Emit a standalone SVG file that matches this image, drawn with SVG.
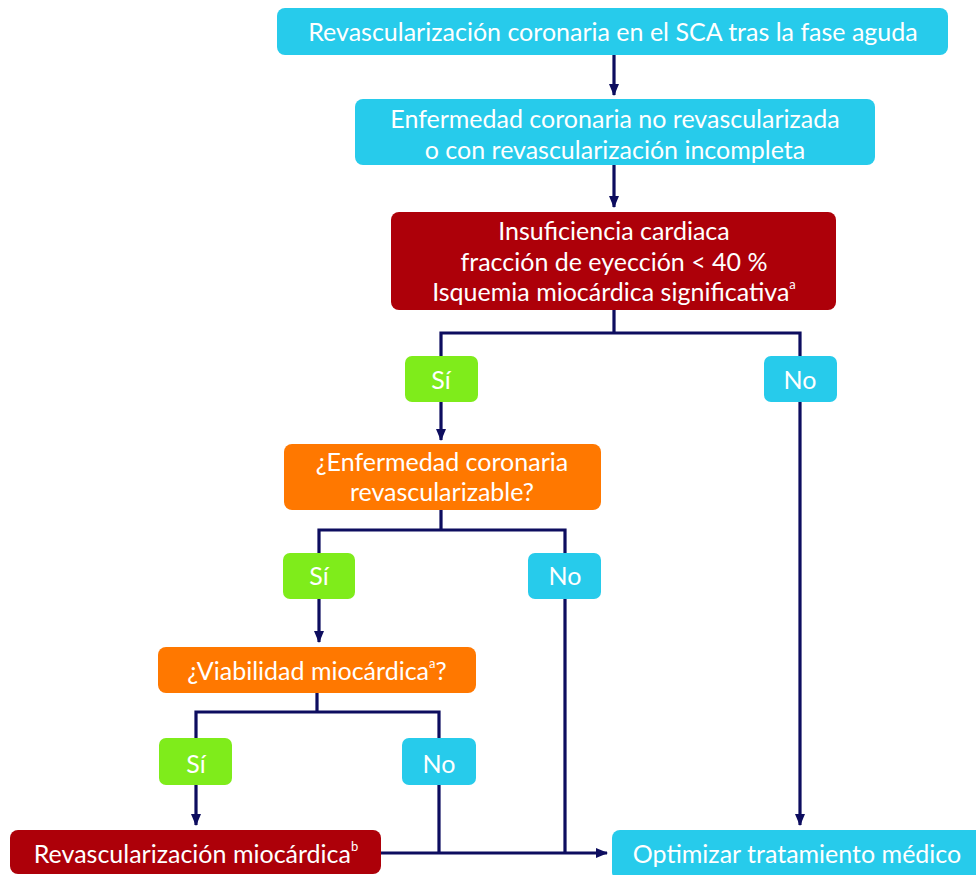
<svg xmlns="http://www.w3.org/2000/svg" width="976" height="875" viewBox="0 0 976 875">
<defs>
<marker id="ah" markerWidth="12" markerHeight="10" refX="11" refY="5" orient="auto" markerUnits="userSpaceOnUse">
<path d="M0,0 L12,5 L0,10 Z" fill="#0d0d5f"/>
</marker>
<style>
text{font-family:"Lato","Open Sans",sans-serif;font-size:25px;fill:#fff;text-anchor:middle;dominant-baseline:central}
.cy{fill:#27cbeb}.rd{fill:#ad0009}.or{fill:#ff7800}.gr{fill:#7fec1b}
.ln{fill:none;stroke:#0d0d5f;stroke-width:3.2}
.sup{font-size:13px}
</style>
</defs>
<rect width="976" height="875" fill="#fff"/>
<g id="connectors">
<path class="ln" d="M614,55 V95" marker-end="url(#ah)"/>
<path class="ln" d="M614,165 V207" marker-end="url(#ah)"/>
<path class="ln" d="M614,310 V333 M441,356 V333 H800 V356"/>
<path class="ln" d="M441,402 V440" marker-end="url(#ah)"/>
<path class="ln" d="M441,510 V530 M319,553 V530 H565 V553"/>
<path class="ln" d="M319,599 V642" marker-end="url(#ah)"/>
<path class="ln" d="M317,693 V712 M196,738 V712 H439 V738"/>
<path class="ln" d="M196,785 V825" marker-end="url(#ah)"/>
<path class="ln" d="M381,853 H607" marker-end="url(#ah)"/>
<path class="ln" d="M439,785 V853 M565,599 V853"/>
<path class="ln" d="M800,402 V825" marker-end="url(#ah)"/>
</g>
<g id="n1"><rect class="cy" x="277" y="8" width="671" height="47" rx="8"/><text x="613" y="31">Revascularización coronaria en el SCA tras la fase aguda</text></g>
<g id="n2"><rect class="cy" x="355" y="99" width="520" height="66" rx="8"/><text x="615" y="118">Enfermedad coronaria no revascularizada</text><text x="615" y="149">o con revascularización incompleta</text></g>
<g id="n3"><rect class="rd" x="391" y="212" width="445" height="98" rx="8"/><text x="614" y="230">Insuficiencia cardiaca</text><text x="614" y="261">fracción de eyección &lt; 40 %</text><text x="614" y="291">Isquemia miocárdica significativa<tspan class="sup" dy="-7">a</tspan></text></g>
<g id="si1"><rect class="gr" x="405" y="356" width="73" height="46" rx="7"/><text x="441" y="379">Sí</text></g>
<g id="no1"><rect class="cy" x="764" y="356" width="73" height="46" rx="7"/><text x="800" y="379">No</text></g>
<g id="n4"><rect class="or" x="284" y="444" width="317" height="66" rx="8"/><text x="442" y="461">¿Enfermedad coronaria</text><text x="442" y="491">revascularizable?</text></g>
<g id="si2"><rect class="gr" x="283" y="553" width="72" height="46" rx="7"/><text x="319" y="575">Sí</text></g>
<g id="no2"><rect class="cy" x="528" y="553" width="73" height="46" rx="7"/><text x="565" y="575">No</text></g>
<g id="n5"><rect class="or" x="158" y="647" width="318" height="46" rx="8"/><text x="317" y="670">¿Viabilidad miocárdica<tspan class="sup" dy="-7">a</tspan><tspan dy="7">?</tspan></text></g>
<g id="si3"><rect class="gr" x="159" y="738" width="73" height="47" rx="7"/><text x="196" y="763">Sí</text></g>
<g id="no3"><rect class="cy" x="402" y="738" width="74" height="47" rx="7"/><text x="439" y="763">No</text></g>
<g id="n6"><rect class="rd" x="10" y="830" width="371" height="44" rx="8"/><text x="196" y="853">Revascularización miocárdica<tspan class="sup" dy="-7">b</tspan></text></g>
<g id="n7"><rect class="cy" x="612" y="830" width="372" height="50" rx="8"/><text x="797" y="853">Optimizar tratamiento médico</text></g>
</svg>
